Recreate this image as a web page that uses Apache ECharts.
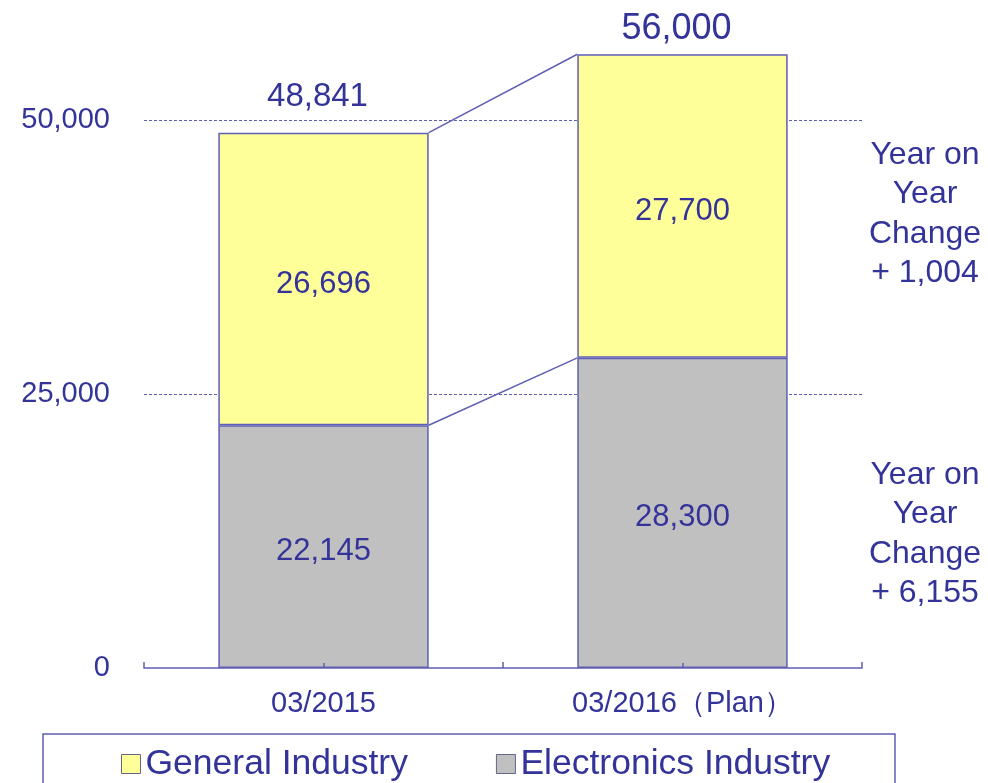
<!DOCTYPE html>
<html>
<head>
<meta charset="utf-8">
<title>Sales by industry</title>
<script src="https://cdn.jsdelivr.net/npm/echarts@6/dist/echarts.min.js"></script>
<style>
    html, body { margin: 0; padding: 0; background: #fff; }
    #main { width: 988px; height: 783px; }
</style>
</head>
<body>
<div id="main"></div>
<script>
    // data
    var categories = ['03/2015', '03/2016（Plan）'];
    var generalIndustry = [26696, 27700];
    var electronicsIndustry = [22145, 28300];
    var yTicks = [0, 25000, 50000];

    var totals = categories.map(function (c, i) {
        return generalIndustry[i] + electronicsIndustry[i];
    });

    function fmt(v) {
        return v.toLocaleString('en-US');
    }

    var BLUE = '#333399';
    var EDGE = '#5f5fb4';
    var FONT = 'Liberation Sans, Arial, sans-serif';
    var BAR_W = 0.586;
    var totalFont = [33, 36];
    var totalGap = [19, 7];

    var chart = echarts.init(document.getElementById('main'));

    var option = {
        backgroundColor: '#ffffff',
        textStyle: { fontFamily: FONT },
        animation: false,
        grid: { left: 144, right: 126, top: 10.4, bottom: 115 },
        legend: {
            data: ['General Industry', 'Electronics Industry'],
            left: 121,
            top: 746,
            padding: 0,
            itemGap: 88,
            itemWidth: 19,
            itemHeight: 19,
            icon: 'rect',
            itemStyle: { borderColor: '#666688', borderWidth: 1 },
            textStyle: { color: BLUE, fontSize: 35.5, fontFamily: FONT, lineHeight: 30 }
        },
        xAxis: [
            {
                type: 'category',
                data: categories,
                axisLine: { show: true, lineStyle: { color: EDGE, width: 1.5 } },
                axisTick: { show: true, inside: true, length: 6, lineStyle: { color: EDGE, width: 1.5 } },
                axisLabel: { color: BLUE, fontSize: 29, fontFamily: FONT, margin: 21 }
            },
            {
                // second axis only for the ticks under the bar centres
                type: 'category',
                data: categories,
                position: 'bottom',
                z: 10,
                axisLine: { show: false },
                axisTick: { show: true, alignWithLabel: true, inside: true, length: 5, lineStyle: { color: EDGE, width: 1.5 } },
                axisLabel: { show: false },
                splitLine: { show: false }
            }
        ],
        yAxis: {
            type: 'value',
            min: 0,
            max: 60000,
            interval: 25000,
            axisLine: { show: false },
            axisTick: { show: false },
            axisLabel: {
                color: BLUE,
                fontSize: 29,
                fontFamily: FONT,
                margin: 34,
                showMaxLabel: false,
                formatter: function (v) {
                    return yTicks.indexOf(v) >= 0 ? fmt(v) : '';
                }
            },
            splitLine: {
                show: true,
                showMinLine: false,
                showMaxLine: false,
                lineStyle: { color: EDGE, type: [3, 2], width: 1 }
            }
        },
        series: [
            {
                name: 'Electronics Industry',
                type: 'bar',
                stack: 'sum',
                barWidth: (BAR_W * 100) + '%',
                data: electronicsIndustry,
                itemStyle: { color: '#c0c0c0', borderColor: EDGE, borderWidth: 1.5 },
                label: {
                    show: true,
                    position: 'inside',
                    offset: [0, 5],
                    color: BLUE,
                    fontSize: 31,
                    fontFamily: FONT,
                    formatter: function (p) { return fmt(p.value); }
                }
            },
            {
                name: 'General Industry',
                type: 'bar',
                stack: 'sum',
                barWidth: (BAR_W * 100) + '%',
                data: generalIndustry,
                itemStyle: { color: '#ffff99', borderColor: EDGE, borderWidth: 1.5 },
                label: {
                    show: true,
                    position: 'inside',
                    offset: [0, 5],
                    color: BLUE,
                    fontSize: 31,
                    fontFamily: FONT,
                    formatter: function (p) { return fmt(p.value); }
                }
            },
            {
                // empty bar on top of the stack, carries the total label
                name: 'total',
                type: 'bar',
                stack: 'sum',
                barWidth: (BAR_W * 100) + '%',
                data: totals.map(function (t, i) {
                    return {
                        value: 0,
                        label: { fontSize: totalFont[i], distance: totalGap[i] }
                    };
                }),
                itemStyle: { color: 'transparent', borderWidth: 0 },
                label: {
                    show: true,
                    position: 'top',
                    offset: [-6, 0],
                    color: BLUE,
                    fontFamily: FONT,
                    formatter: function (p) { return fmt(totals[p.dataIndex]); }
                }
            },
            {
                // lines joining the bar corners
                type: 'custom',
                silent: true,
                z: 5,
                encode: { x: 0, y: [1, 2] },
                data: [
                    [0, electronicsIndustry[0], electronicsIndustry[1]],
                    [0, totals[0], totals[1]]
                ],
                renderItem: function (params, api) {
                    var a = api.coord([0, api.value(1)]);
                    var b = api.coord([1, api.value(2)]);
                    var hw = api.size([1, 0])[0] * BAR_W / 2;
                    return {
                        type: 'line',
                        shape: { x1: a[0] + hw, y1: a[1], x2: b[0] - hw, y2: b[1] },
                        style: { stroke: EDGE, lineWidth: 1.5 }
                    };
                }
            }
        ],
        graphic: [
            {
                type: 'rect',
                shape: { x: 43, y: 734, width: 852, height: 80 },
                style: { fill: 'none', stroke: EDGE, lineWidth: 1.5 },
                z: -1
            },
            {
                type: 'text',
                x: 925,
                y: 135,
                style: {
                    text: 'Year on\nYear\nChange\n+ ' + fmt(generalIndustry[1] - generalIndustry[0]),
                    fill: BLUE,
                    fontSize: 32,
                    fontFamily: FONT,
                    align: 'center',
                    verticalAlign: 'top',
                    lineHeight: 39.5
                }
            },
            {
                type: 'text',
                x: 925,
                y: 455,
                style: {
                    text: 'Year on\nYear\nChange\n+ ' + fmt(electronicsIndustry[1] - electronicsIndustry[0]),
                    fill: BLUE,
                    fontSize: 32,
                    fontFamily: FONT,
                    align: 'center',
                    verticalAlign: 'top',
                    lineHeight: 39.5
                }
            }
        ]
    };

    chart.setOption(option);
</script>
</body>
</html>
